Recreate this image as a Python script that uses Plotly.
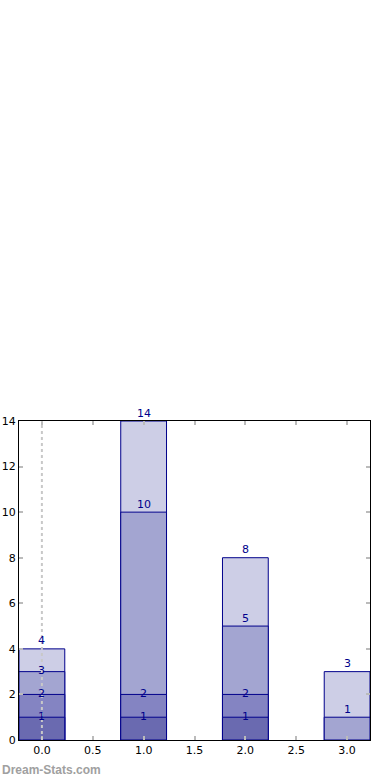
import plotly.graph_objects as go

categories = [0, 1, 2, 3]
series_A = [1, 1, 1, None]
series_B = [2, 2, 2, None]
series_C = [3, 10, 5, 1]
series_D = [4, 14, 8, 3]

colors = {"A": "#6a6ab0", "B": "#8484c2", "C": "#a3a5d1", "D": "#cdcee6"}
edge = "#00008b"

fig = go.Figure()
stack = [("D", series_D), ("C", series_C), ("B", series_B), ("A", series_A)]
for name, vals in stack:
    fig.add_trace(go.Bar(
        x=categories, y=vals, width=0.45, name=name,
        marker=dict(color=colors[name], line=dict(color=edge, width=1)),
        hoverinfo="skip", showlegend=False,
    ))

# value labels
order = [("A", series_A), ("B", series_B), ("C", series_C), ("D", series_D)]
for ci, c in enumerate(categories):
    col = [(i, v[ci]) for i, (n, v) in enumerate(order) if v[ci] is not None]
    for k, (si, val) in enumerate(col):
        top = k == len(col) - 1
        gap = None if top else col[k + 1][1] - val
        above = top or (si >= 2 and gap >= 2)
        fig.add_annotation(x=c, y=val, text=str(val), showarrow=False,
                           yshift=8 if above else 1,
                           font=dict(family="DejaVu Sans", size=11, color=edge))

fig.add_shape(type="line", x0=0, x1=0, y0=0, y1=14, xref="x", yref="y",
              line=dict(color="#c8c8c8", width=2, dash="dot"), layer="above")

x_range = [-0.225, 3.225]
fig.add_annotation(text="Dream-Stats.com", xref="x", yref="y",
                   x=x_range[0], y=0, xanchor="left", yanchor="middle",
                   xshift=-19, yshift=-30, showarrow=False,
                   font=dict(family="Liberation Sans", size=12, color="#a0a0a0", weight="bold"))

axis_common = dict(showline=True, linecolor="black", linewidth=1, mirror="ticks",
                   ticks="inside", ticklen=4, tickcolor="#bbbbbb", tickwidth=2,
                   showgrid=False, zeroline=False, automargin=False,
                   tickfont=dict(family="DejaVu Sans", size=11, color="black"))

fig.update_layout(
    width=390, height=780,
    margin=dict(l=19, r=20, t=421, b=40),
    paper_bgcolor="white", plot_bgcolor="white",
    barmode="overlay",
    xaxis=dict(range=x_range, tickvals=[0, 0.5, 1, 1.5, 2, 2.5, 3],
               ticktext=["0.0", "0.5", "1.0", "1.5", "2.0", "2.5", "3.0"], **axis_common),
    yaxis=dict(range=[0, 14], tickvals=list(range(0, 15, 2)), **axis_common),
)

fig.write_html("out.html", config={"displayModeBar": False},
               post_script="document.body.style.margin='0';")
